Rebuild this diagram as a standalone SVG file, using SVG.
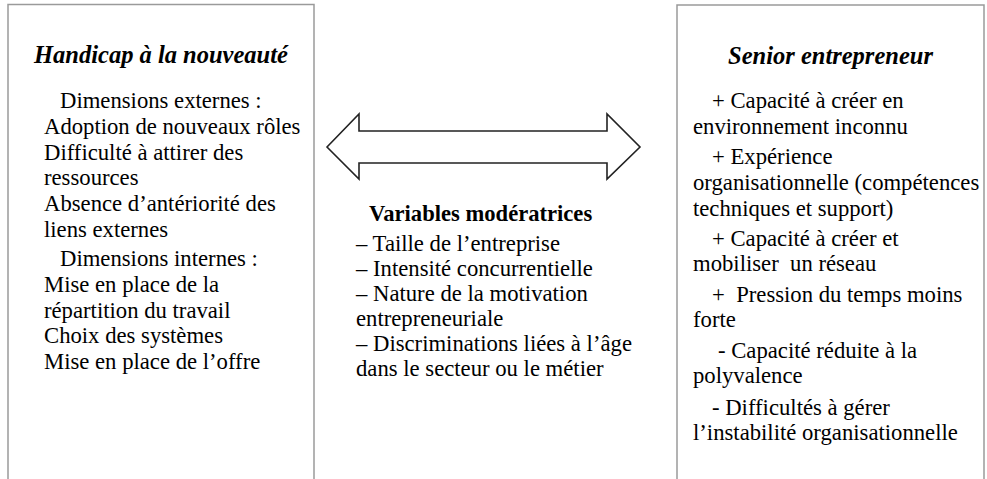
<svg xmlns="http://www.w3.org/2000/svg" width="987" height="479" viewBox="0 0 987 479">
  <style>
    .box { fill: #ffffff; stroke: #9a9a9a; stroke-width: 1.5; }
    .arrow { fill: #ffffff; stroke: #222222; stroke-width: 1.6; stroke-linejoin: miter; }
    text { font-family: "Liberation Serif", Tinos, "Times New Roman", Times, serif; fill: #000000; }
    .title { font-size: 24.5px; font-weight: bold; font-style: italic; text-anchor: middle; }
    .head { font-size: 22.6px; font-weight: bold; }
    .body { font-size: 22.7px; }
  </style>
  <rect width="987" height="479" fill="#ffffff"/>

  <!-- Left box: handicap of newness -->
  <g id="handicap">
    <path class="box" d="M8,480 V4.5 H314 V480"/>
    <text class="title" x="161" y="63">Handicap à la nouveauté</text>
    <text class="body" x="60" y="108">Dimensions externes :</text>
    <text class="body" x="44" y="134">Adoption de nouveaux rôles</text>
    <text class="body" x="44" y="160">Difficulté à attirer des</text>
    <text class="body" x="44" y="185">ressources</text>
    <text class="body" x="44" y="211">Absence d’antériorité des</text>
    <text class="body" x="44" y="237">liens externes</text>
    <text class="body" x="60" y="266">Dimensions internes :</text>
    <text class="body" x="44" y="292">Mise en place de la</text>
    <text class="body" x="44" y="318">répartition du travail</text>
    <text class="body" x="44" y="343">Choix des systèmes</text>
    <text class="body" x="44" y="369">Mise en place de l’offre</text>
  </g>

  <!-- Right box: senior entrepreneur -->
  <g id="senior">
    <path class="box" d="M677,480 V5 H984 V480"/>
    <text class="title" x="830.5" y="63.5">Senior entrepreneur</text>
    <text class="body" x="712" y="108">+ Capacité à créer en</text>
    <text class="body" x="693" y="134">environnement inconnu</text>
    <text class="body" x="712" y="164">+ Expérience</text>
    <text class="body" x="693" y="190">organisationnelle (compétences</text>
    <text class="body" x="693" y="216">techniques et support)</text>
    <text class="body" x="712" y="246">+ Capacité à créer et</text>
    <text class="body" x="693" y="271" xml:space="preserve">mobiliser  un réseau</text>
    <text class="body" x="712" y="302" xml:space="preserve">+  Pression du temps moins</text>
    <text class="body" x="693" y="327">forte</text>
    <text class="body" x="718" y="358">- Capacité réduite à la</text>
    <text class="body" x="693" y="383">polyvalence</text>
    <text class="body" x="712" y="415">- Difficultés à gérer</text>
    <text class="body" x="693" y="440">l’instabilité organisationnelle</text>
  </g>

  <!-- Middle: moderating variables -->
  <g id="moderatrices">
    <text class="head" x="369" y="221">Variables modératrices</text>
    <text class="body" x="356" y="251">– Taille de l’entreprise</text>
    <text class="body" x="356" y="276">– Intensité concurrentielle</text>
    <text class="body" x="356" y="301">– Nature de la motivation</text>
    <text class="body" x="356" y="326">entrepreneuriale</text>
    <text class="body" x="356" y="351">– Discriminations liées à l’âge</text>
    <text class="body" x="356" y="376">dans le secteur ou le métier</text>
  </g>

  <!-- Connector: two-headed block arrow between the boxes -->
  <g id="connectors">
    <path class="arrow" d="M327,147 L359,114 V131 H607 V114 L640,147 L607,179 V163 H359 V179 Z"/>
  </g>
</svg>
